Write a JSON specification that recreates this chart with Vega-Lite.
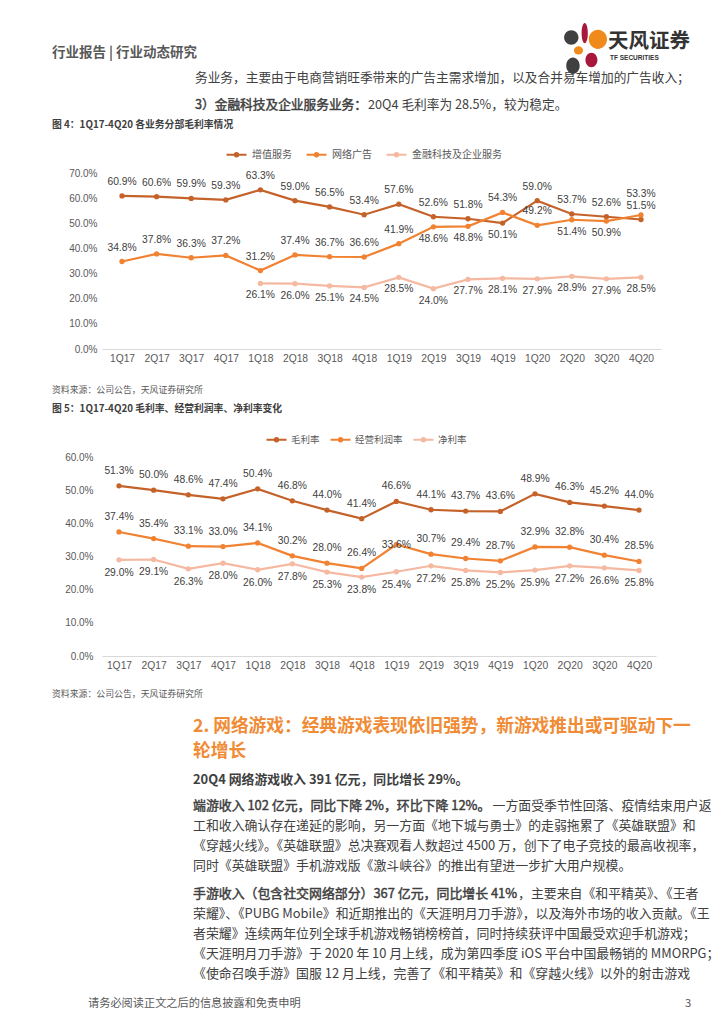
{
  "$schema": "https://vega.github.io/schema/vega-lite/v6.json",
  "background": "white",
  "padding": {"left": 52, "top": 0, "right": 0, "bottom": 0},
  "spacing": 0,
  "bounds": "flush",
  "resolve": {"scale": {"color": "independent"}, "legend": {"color": "independent"}},
  "config": {"view": {"stroke": null}, "font": "Noto Sans CJK SC"},
  "vconcat": [
    {
      "width": 598, "height": 172,
      "layer": [
        {"data": {"values": [{"t": "行业报告 | 行业动态研究"}]}, "mark": {"type": "text", "x": -50, "y": 52, "align": "left", "baseline": "middle", "fontSize": 13.5, "fontWeight": "bold", "fill": "#595959"}, "encoding": {"text": {"field": "t"}}},
        {"data": {"values": [{}]}, "mark": {"type": "rule", "x": -50, "x2": 598, "y": 63, "y2": 63, "stroke": "#EE7D22", "strokeWidth": 1.5}, "encoding": {}},
        {"data": {"values": [{}]}, "mark": {"type": "point", "shape": "M-0.83,-0.44A0.3,0.3 0 1,0 -0.23,-0.44A0.3,0.3 0 1,0 -0.83,-0.44Z M-0.74,0.74A0.28,0.34 0 1,0 -0.18,0.74A0.28,0.34 0 1,0 -0.74,0.74Z", "x": 482, "y": 47, "size": 2300, "filled": true, "fill": "#404040", "opacity": 1, "strokeWidth": 0}, "encoding": {}},
        {"data": {"values": [{}]}, "mark": {"type": "point", "shape": "M-0.1,-0.62A0.13,0.42 0 1,0 0.16,-0.62A0.13,0.42 0 1,0 -0.1,-0.62Z M0.06,0.5A0.25,0.3 0 1,0 0.56,0.5A0.25,0.3 0 1,0 0.06,0.5Z", "x": 482, "y": 47, "size": 2300, "filled": true, "fill": "#A8173C", "opacity": 1, "strokeWidth": 0}, "encoding": {}},
        {"data": {"values": [{}]}, "mark": {"type": "point", "shape": "M0.2,-0.36A0.38,0.4 0 1,0 0.96,-0.36A0.38,0.4 0 1,0 0.2,-0.36Z M-0.42,0.1A0.19,0.17 0 1,0 -0.04,0.1A0.19,0.17 0 1,0 -0.42,0.1Z", "x": 482, "y": 47, "size": 2300, "filled": true, "fill": "#EF8A1B", "opacity": 1, "strokeWidth": 0}, "encoding": {}},
        {"data": {"values": [{"t": "天风证券"}]}, "mark": {"type": "text", "x": 506, "y": 41, "align": "left", "baseline": "middle", "fontSize": 20.5, "fontWeight": "bold", "fill": "#333333"}, "encoding": {"text": {"field": "t"}}},
        {"data": {"values": [{"t": "TF SECURITIES"}]}, "mark": {"type": "text", "x": 508, "y": 57, "align": "left", "baseline": "middle", "font": "Liberation Sans", "fontSize": 6.5, "fontWeight": "bold", "fill": "#333333"}, "encoding": {"text": {"field": "t"}}},
        {"data": {"values": [{"t": "务业务，主要由于电商营销旺季带来的广告主需求增加，以及合并易车增加的广告收入；"}]}, "mark": {"type": "text", "x": 93, "y": 77, "align": "left", "baseline": "middle", "fontSize": 12.7, "fill": "#404040"}, "encoding": {"text": {"field": "t"}}},
        {"data": {"values": [{"t": "3）金融科技及企业服务业务："}]}, "mark": {"type": "text", "x": 93, "y": 104, "align": "left", "baseline": "middle", "fontSize": 12.7, "fill": "#404040", "stroke": "#404040", "strokeWidth": 0.45}, "encoding": {"text": {"field": "t"}}},
        {"data": {"values": [{"t": "20Q4 毛利率为 28.5%，较为稳定。"}]}, "mark": {"type": "text", "x": 266, "y": 104, "align": "left", "baseline": "middle", "fontSize": 12.7, "fill": "#404040"}, "encoding": {"text": {"field": "t"}}},
        {"data": {"values": [{"t": "图 4：1Q17-4Q20 各业务分部毛利率情况"}]}, "mark": {"type": "text", "x": -50, "y": 124, "align": "left", "baseline": "middle", "fontSize": 9.8, "fontWeight": "bold", "fill": "#404040"}, "encoding": {"text": {"field": "t"}}},
        {"data": {"values": [{}]}, "mark": {"type": "rule", "x": -50, "x2": 558, "y": 132.5, "y2": 132.5, "stroke": "#F4A259", "strokeWidth": 1}, "encoding": {}}
      ]
    },
    {
      "width": 559, "height": 176,
      "data": {"values": [
        {"q": "1Q17", "s": "增值服务", "v": 0.609}, {"q": "2Q17", "s": "增值服务", "v": 0.606}, {"q": "3Q17", "s": "增值服务", "v": 0.599}, {"q": "4Q17", "s": "增值服务", "v": 0.593},
        {"q": "1Q18", "s": "增值服务", "v": 0.633}, {"q": "2Q18", "s": "增值服务", "v": 0.590}, {"q": "3Q18", "s": "增值服务", "v": 0.565}, {"q": "4Q18", "s": "增值服务", "v": 0.534},
        {"q": "1Q19", "s": "增值服务", "v": 0.576}, {"q": "2Q19", "s": "增值服务", "v": 0.526}, {"q": "3Q19", "s": "增值服务", "v": 0.518}, {"q": "4Q19", "s": "增值服务", "v": 0.501},
        {"q": "1Q20", "s": "增值服务", "v": 0.590}, {"q": "2Q20", "s": "增值服务", "v": 0.537}, {"q": "3Q20", "s": "增值服务", "v": 0.526}, {"q": "4Q20", "s": "增值服务", "v": 0.515},
        {"q": "1Q17", "s": "网络广告", "v": 0.348}, {"q": "2Q17", "s": "网络广告", "v": 0.378}, {"q": "3Q17", "s": "网络广告", "v": 0.363}, {"q": "4Q17", "s": "网络广告", "v": 0.372},
        {"q": "1Q18", "s": "网络广告", "v": 0.312}, {"q": "2Q18", "s": "网络广告", "v": 0.374}, {"q": "3Q18", "s": "网络广告", "v": 0.367}, {"q": "4Q18", "s": "网络广告", "v": 0.366},
        {"q": "1Q19", "s": "网络广告", "v": 0.419}, {"q": "2Q19", "s": "网络广告", "v": 0.486}, {"q": "3Q19", "s": "网络广告", "v": 0.488}, {"q": "4Q19", "s": "网络广告", "v": 0.543},
        {"q": "1Q20", "s": "网络广告", "v": 0.492}, {"q": "2Q20", "s": "网络广告", "v": 0.514}, {"q": "3Q20", "s": "网络广告", "v": 0.509}, {"q": "4Q20", "s": "网络广告", "v": 0.533},
        {"q": "1Q18", "s": "金融科技及企业服务", "v": 0.261}, {"q": "2Q18", "s": "金融科技及企业服务", "v": 0.260}, {"q": "3Q18", "s": "金融科技及企业服务", "v": 0.251}, {"q": "4Q18", "s": "金融科技及企业服务", "v": 0.245},
        {"q": "1Q19", "s": "金融科技及企业服务", "v": 0.285}, {"q": "2Q19", "s": "金融科技及企业服务", "v": 0.240}, {"q": "3Q19", "s": "金融科技及企业服务", "v": 0.277}, {"q": "4Q19", "s": "金融科技及企业服务", "v": 0.281},
        {"q": "1Q20", "s": "金融科技及企业服务", "v": 0.279}, {"q": "2Q20", "s": "金融科技及企业服务", "v": 0.289}, {"q": "3Q20", "s": "金融科技及企业服务", "v": 0.279}, {"q": "4Q20", "s": "金融科技及企业服务", "v": 0.285}
      ]},
      "encoding": {
        "x": {"field": "q", "type": "ordinal", "sort": ["1Q17","2Q17","3Q17","4Q17","1Q18","2Q18","3Q18","4Q18","1Q19","2Q19","3Q19","4Q19","1Q20","2Q20","3Q20","4Q20"], "scale": {"type": "point", "padding": 0.578},
              "axis": {"title": null, "labelAngle": 0, "ticks": false, "domainColor": "#D9D9D9", "domainWidth": 1, "labelPadding": 4, "labelFont": "Liberation Sans", "labelFontSize": 10.3, "labelColor": "#595959", "grid": false}},
        "y": {"field": "v", "type": "quantitative", "scale": {"domain": [0, 0.7], "nice": false, "zero": true},
              "axis": {"title": null, "values": [0, 0.1, 0.2, 0.3, 0.4, 0.5, 0.6, 0.7], "format": ".1%", "domain": false, "ticks": false, "grid": false, "labelPadding": 5, "labelFont": "Liberation Sans", "labelFontSize": 10, "labelColor": "#595959"}}
      },
      "layer": [
        {"mark": {"type": "line", "strokeWidth": 2.2, "point": {"filled": true, "size": 28}},
         "encoding": {"color": {"field": "s", "type": "nominal",
           "scale": {"domain": ["增值服务", "网络广告", "金融科技及企业服务"], "range": ["#C5622A", "#F08232", "#F5B8A0"]},
           "legend": {"title": null, "orient": "none", "legendX": 123, "legendY": -30, "direction": "horizontal", "padding": 0,
             "symbolType": "M-1,0L1,0M-0.16,0A0.16,0.16 0 1,0 0.16,0A0.16,0.16 0 1,0 -0.16,0Z", "symbolSize": 400, "symbolStrokeWidth": 2.2,
             "labelFont": "Noto Sans CJK SC", "labelFontSize": 10, "labelColor": "#595959", "labelOffset": 4, "columnPadding": 10}}}},
        {"transform": [{"filter": "!(datum.s === '金融科技及企业服务' || (datum.s === '网络广告' && indexof(['2Q19','3Q19','2Q20','3Q20','4Q20'], datum.q) >= 0) || (datum.s === '增值服务' && datum.q === '4Q19'))"}],
         "mark": {"type": "text", "dy": -14, "baseline": "middle", "font": "Liberation Sans", "fontSize": 10.3, "fill": "#404040"},
         "encoding": {"text": {"field": "v", "type": "quantitative", "format": ".1%"}}},
        {"transform": [{"filter": "datum.s === '网络广告' && datum.q === '4Q20'"}],
         "mark": {"type": "text", "dy": -21, "baseline": "middle", "font": "Liberation Sans", "fontSize": 10.3, "fill": "#404040"},
         "encoding": {"text": {"field": "v", "type": "quantitative", "format": ".1%"}}},
        {"transform": [{"filter": "datum.s === '金融科技及企业服务' || (datum.s === '网络广告' && indexof(['2Q19','3Q19','2Q20','3Q20'], datum.q) >= 0) || (datum.s === '增值服务' && datum.q === '4Q19')"}],
         "mark": {"type": "text", "dy": 12, "baseline": "middle", "font": "Liberation Sans", "fontSize": 10.3, "fill": "#404040"},
         "encoding": {"text": {"field": "v", "type": "quantitative", "format": ".1%"}}}
      ]
    },
    {
      "width": 598, "height": 108,
      "layer": [
        {"data": {"values": [{}]}, "mark": {"type": "rule", "x": -50, "x2": 558, "y": 25, "y2": 25, "stroke": "#F9CDA8", "strokeWidth": 1.5}, "encoding": {}},
        {"data": {"values": [{"t": "资料来源：公司公告，天风证券研究所"}]}, "mark": {"type": "text", "x": -50, "y": 41, "align": "left", "baseline": "middle", "fontSize": 8.9, "fill": "#595959"}, "encoding": {"text": {"field": "t"}}},
        {"data": {"values": [{"t": "图 5：1Q17-4Q20 毛利率、经营利润率、净利率变化"}]}, "mark": {"type": "text", "x": -50, "y": 60, "align": "left", "baseline": "middle", "fontSize": 9.8, "fontWeight": "bold", "fill": "#404040"}, "encoding": {"text": {"field": "t"}}},
        {"data": {"values": [{}]}, "mark": {"type": "rule", "x": -50, "x2": 558, "y": 69, "y2": 69, "stroke": "#F4A259", "strokeWidth": 1}, "encoding": {}}
      ]
    },
    {
      "width": 554, "height": 199,
      "data": {"values": [
        {"q": "1Q17", "s": "毛利率", "v": 0.513}, {"q": "2Q17", "s": "毛利率", "v": 0.500}, {"q": "3Q17", "s": "毛利率", "v": 0.486}, {"q": "4Q17", "s": "毛利率", "v": 0.474},
        {"q": "1Q18", "s": "毛利率", "v": 0.504}, {"q": "2Q18", "s": "毛利率", "v": 0.468}, {"q": "3Q18", "s": "毛利率", "v": 0.440}, {"q": "4Q18", "s": "毛利率", "v": 0.414},
        {"q": "1Q19", "s": "毛利率", "v": 0.466}, {"q": "2Q19", "s": "毛利率", "v": 0.441}, {"q": "3Q19", "s": "毛利率", "v": 0.437}, {"q": "4Q19", "s": "毛利率", "v": 0.436},
        {"q": "1Q20", "s": "毛利率", "v": 0.489}, {"q": "2Q20", "s": "毛利率", "v": 0.463}, {"q": "3Q20", "s": "毛利率", "v": 0.452}, {"q": "4Q20", "s": "毛利率", "v": 0.440},
        {"q": "1Q17", "s": "经营利润率", "v": 0.374}, {"q": "2Q17", "s": "经营利润率", "v": 0.354}, {"q": "3Q17", "s": "经营利润率", "v": 0.331}, {"q": "4Q17", "s": "经营利润率", "v": 0.330},
        {"q": "1Q18", "s": "经营利润率", "v": 0.341}, {"q": "2Q18", "s": "经营利润率", "v": 0.302}, {"q": "3Q18", "s": "经营利润率", "v": 0.280}, {"q": "4Q18", "s": "经营利润率", "v": 0.264},
        {"q": "1Q19", "s": "经营利润率", "v": 0.336}, {"q": "2Q19", "s": "经营利润率", "v": 0.307}, {"q": "3Q19", "s": "经营利润率", "v": 0.294}, {"q": "4Q19", "s": "经营利润率", "v": 0.287},
        {"q": "1Q20", "s": "经营利润率", "v": 0.329}, {"q": "2Q20", "s": "经营利润率", "v": 0.328}, {"q": "3Q20", "s": "经营利润率", "v": 0.304}, {"q": "4Q20", "s": "经营利润率", "v": 0.285},
        {"q": "1Q17", "s": "净利率", "v": 0.290}, {"q": "2Q17", "s": "净利率", "v": 0.291}, {"q": "3Q17", "s": "净利率", "v": 0.263}, {"q": "4Q17", "s": "净利率", "v": 0.280},
        {"q": "1Q18", "s": "净利率", "v": 0.260}, {"q": "2Q18", "s": "净利率", "v": 0.278}, {"q": "3Q18", "s": "净利率", "v": 0.253}, {"q": "4Q18", "s": "净利率", "v": 0.238},
        {"q": "1Q19", "s": "净利率", "v": 0.254}, {"q": "2Q19", "s": "净利率", "v": 0.272}, {"q": "3Q19", "s": "净利率", "v": 0.258}, {"q": "4Q19", "s": "净利率", "v": 0.252},
        {"q": "1Q20", "s": "净利率", "v": 0.259}, {"q": "2Q20", "s": "净利率", "v": 0.272}, {"q": "3Q20", "s": "净利率", "v": 0.266}, {"q": "4Q20", "s": "净利率", "v": 0.258}
      ]},
      "encoding": {
        "x": {"field": "q", "type": "ordinal", "sort": ["1Q17","2Q17","3Q17","4Q17","1Q18","2Q18","3Q18","4Q18","1Q19","2Q19","3Q19","4Q19","1Q20","2Q20","3Q20","4Q20"], "scale": {"type": "point", "padding": 0.49},
              "axis": {"title": null, "labelAngle": 0, "ticks": false, "domainColor": "#D9D9D9", "domainWidth": 1, "labelPadding": 4, "labelFont": "Liberation Sans", "labelFontSize": 10.3, "labelColor": "#595959", "grid": false}},
        "y": {"field": "v", "type": "quantitative", "scale": {"domain": [0, 0.6], "nice": false, "zero": true},
              "axis": {"title": null, "values": [0, 0.1, 0.2, 0.3, 0.4, 0.5, 0.6], "format": ".1%", "domain": false, "ticks": false, "grid": false, "labelPadding": 9, "labelFont": "Liberation Sans", "labelFontSize": 10, "labelColor": "#595959"}}
      },
      "layer": [
        {"mark": {"type": "line", "strokeWidth": 2.2, "point": {"filled": true, "size": 28}},
         "encoding": {"color": {"field": "s", "type": "nominal",
           "scale": {"domain": ["毛利率", "经营利润率", "净利率"], "range": ["#C5622A", "#F08232", "#F5B8A0"]},
           "legend": {"title": null, "orient": "none", "legendX": 163, "legendY": -29, "direction": "horizontal", "padding": 0,
             "symbolType": "M-1,0L1,0M-0.16,0A0.16,0.16 0 1,0 0.16,0A0.16,0.16 0 1,0 -0.16,0Z", "symbolSize": 400, "symbolStrokeWidth": 2.2,
             "labelFont": "Noto Sans CJK SC", "labelFontSize": 9.5, "labelColor": "#595959", "labelOffset": 3, "columnPadding": 6}}}},
        {"transform": [{"filter": "datum.s !== '净利率' && !(datum.s === '经营利润率' && datum.q === '1Q19')"}],
         "mark": {"type": "text", "dy": -15, "baseline": "middle", "font": "Liberation Sans", "fontSize": 10.3, "fill": "#404040"},
         "encoding": {"text": {"field": "v", "type": "quantitative", "format": ".1%"}}},
        {"transform": [{"filter": "datum.s === '经营利润率' && datum.q === '1Q19'"}],
         "mark": {"type": "text", "dy": 0, "baseline": "middle", "font": "Liberation Sans", "fontSize": 10.3, "fill": "#404040"},
         "encoding": {"text": {"field": "v", "type": "quantitative", "format": ".1%"}}},
        {"transform": [{"filter": "datum.s === '净利率'"}],
         "mark": {"type": "text", "dy": 13, "baseline": "middle", "font": "Liberation Sans", "fontSize": 10.3, "fill": "#404040"},
         "encoding": {"text": {"field": "v", "type": "quantitative", "format": ".1%"}}}
      ]
    },
    {
      "width": 598, "height": 369,
      "layer": [
        {"data": {"values": [{}]}, "mark": {"type": "rule", "x": -50, "x2": 558, "y": 28, "y2": 28, "stroke": "#F9CDA8", "strokeWidth": 1.5}, "encoding": {}},
        {"data": {"values": [{"t": "资料来源：公司公告，天风证券研究所"}]}, "mark": {"type": "text", "x": -50, "y": 38, "align": "left", "baseline": "middle", "fontSize": 8.9, "fill": "#595959"}, "encoding": {"text": {"field": "t"}}},
        {"data": {"values": [{"t": "2. 网络游戏：经典游戏表现依旧强势，新游戏推出或可驱动下一"}]}, "mark": {"type": "text", "x": 91, "y": 71, "align": "left", "baseline": "middle", "fontSize": 17.7, "fontWeight": "bold", "fill": "#F08B36"}, "encoding": {"text": {"field": "t"}}},
        {"data": {"values": [{"t": "轮增长"}]}, "mark": {"type": "text", "x": 91, "y": 96, "align": "left", "baseline": "middle", "fontSize": 17.7, "fontWeight": "bold", "fill": "#F08B36"}, "encoding": {"text": {"field": "t"}}},
        {"data": {"values": [{"t": "20Q4 网络游戏收入 391 亿元，同比增长 29%。"}]}, "mark": {"type": "text", "x": 91, "y": 124, "align": "left", "baseline": "middle", "fontSize": 12.9, "fontWeight": "bold", "fill": "#404040"}, "encoding": {"text": {"field": "t"}}},
        {"data": {"values": [{"t": "端游收入 102 亿元，同比下降 2%，环比下降 12%。"}]}, "mark": {"type": "text", "x": 91, "y": 143.5, "align": "left", "baseline": "top", "fontSize": 12.9, "fill": "#404040", "stroke": "#404040", "strokeWidth": 0.45}, "encoding": {"text": {"field": "t"}}},
        {"data": {"values": [{"t": "一方面受季节性回落、疫情结束用户返"}]}, "mark": {"type": "text", "x": 390.5, "y": 143.5, "align": "left", "baseline": "top", "fontSize": 12.9, "fill": "#404040"}, "encoding": {"text": {"field": "t"}}},
        {"data": {"values": [{"t": ["工和收入确认存在递延的影响，另一方面《地下城与勇士》的走弱拖累了《英雄联盟》和", "《穿越火线》。《英雄联盟》总决赛观看人数超过 4500 万，创下了电子竞技的最高收视率，", "同时《英雄联盟》手机游戏版《激斗峡谷》的推出有望进一步扩大用户规模。"]}]}, "mark": {"type": "text", "x": 91, "y": 163.5, "align": "left", "baseline": "top", "lineBreak": "\n", "lineHeight": 20, "fontSize": 12.9, "fill": "#404040"}, "encoding": {"text": {"field": "t"}}},
        {"data": {"values": [{"t": "手游收入（包含社交网络部分）367 亿元，同比增长 41%"}]}, "mark": {"type": "text", "x": 91, "y": 231.5, "align": "left", "baseline": "top", "fontSize": 12.9, "fill": "#404040", "stroke": "#404040", "strokeWidth": 0.45}, "encoding": {"text": {"field": "t"}}},
        {"data": {"values": [{"t": "，主要来自《和平精英》、《王者"}]}, "mark": {"type": "text", "x": 416, "y": 231.5, "align": "left", "baseline": "top", "fontSize": 12.9, "fill": "#404040"}, "encoding": {"text": {"field": "t"}}},
        {"data": {"values": [{"t": ["荣耀》、《PUBG Mobile》和近期推出的《天涯明月刀手游》，以及海外市场的收入贡献。《王", "者荣耀》连续两年位列全球手机游戏畅销榜榜首，同时持续获评中国最受欢迎手机游戏；", "《天涯明月刀手游》于 2020 年 10 月上线，成为第四季度 iOS 平台中国最畅销的 MMORPG；", "《使命召唤手游》国服 12 月上线，完善了《和平精英》和《穿越火线》以外的射击游戏"]}]}, "mark": {"type": "text", "x": 91, "y": 251.5, "align": "left", "baseline": "top", "lineBreak": "\n", "lineHeight": 20, "fontSize": 12.9, "fill": "#404040"}, "encoding": {"text": {"field": "t"}}},
        {"data": {"values": [{}]}, "mark": {"type": "rule", "x": -50, "x2": 588, "y": 333, "y2": 333, "stroke": "#EE7D22", "strokeWidth": 1.5}, "encoding": {}},
        {"data": {"values": [{"t": "请务必阅读正文之后的信息披露和免责申明"}]}, "mark": {"type": "text", "x": -14, "y": 348, "align": "left", "baseline": "middle", "fontSize": 11.2, "fill": "#595959"}, "encoding": {"text": {"field": "t"}}},
        {"data": {"values": [{"t": "3"}]}, "mark": {"type": "text", "x": 586, "y": 348, "align": "center", "baseline": "middle", "fontSize": 11.2, "fill": "#595959"}, "encoding": {"text": {"field": "t"}}}
      ]
    }
  ]
}
